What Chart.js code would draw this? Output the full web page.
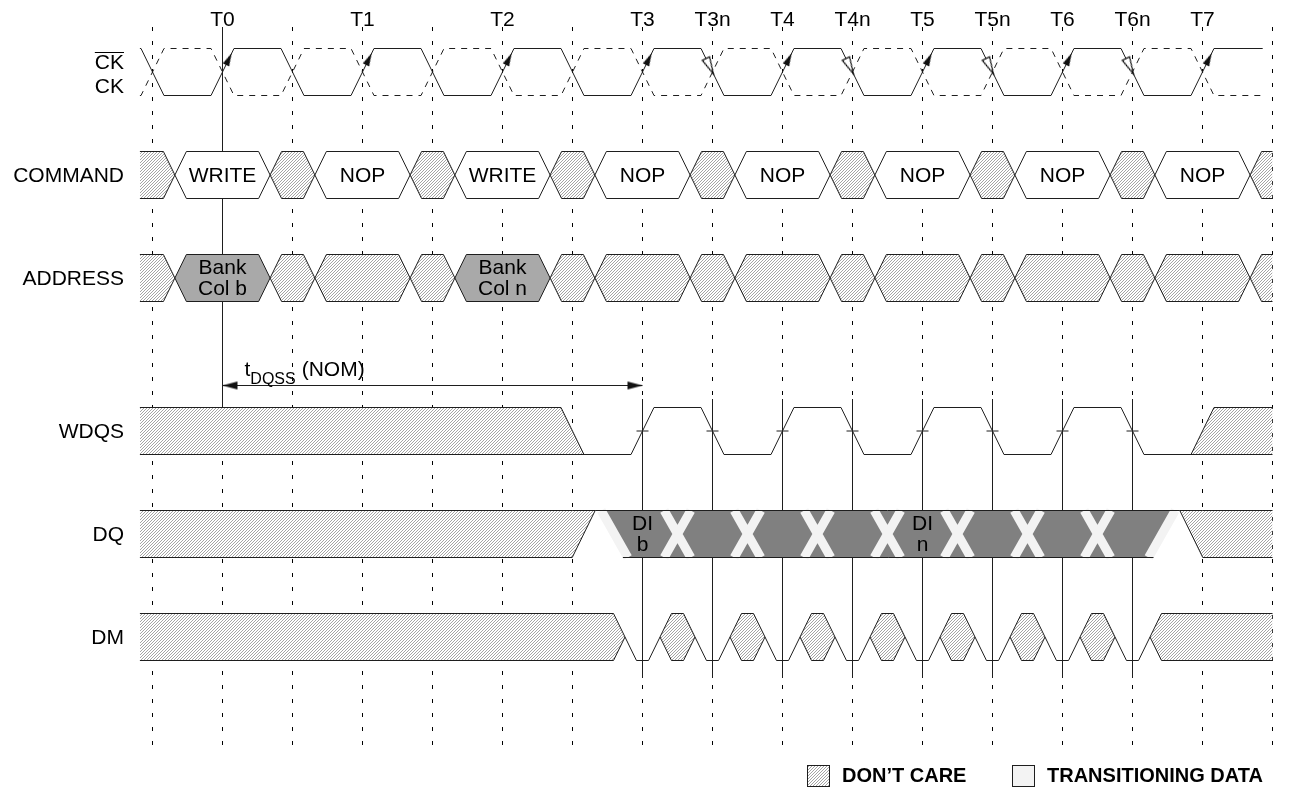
<!DOCTYPE html>
<html>
<head>
<meta charset="utf-8">
<title>WRITE burst timing</title>
<script src="https://cdn.jsdelivr.net/npm/chart.js@4.4.1/dist/chart.umd.min.js"></script>
<style>
  html, body { margin: 0; padding: 0; background: #fff; }
</style>
</head>
<body>
<canvas id="timing" width="1291" height="788"></canvas>
<script>
// times are in clock cycles, T0 = 0
var clockLabels = ['T0', 'T1', 'T2', 'T3', 'T3n', 'T4', 'T4n', 'T5', 'T5n', 'T6', 'T6n', 'T7'];
var clockLabelTimes = [0, 1, 2, 3, 3.5, 4, 4.5, 5, 5.5, 6, 6.5, 7];
var gridTimes = [-0.5, 0, 0.5, 1, 1.5, 2, 2.5, 3, 3.5, 4, 4.5, 5, 5.5, 6, 6.5, 7, 7.5];

var ckEdges = [-0.5, 0, 0.5, 1, 1.5, 2, 2.5, 3, 3.5, 4, 4.5, 5, 5.5, 6, 6.5, 7];
var ckRiseArrows = [0, 1, 2, 3, 4, 5, 6, 7];
var ckFallArrows = [3.5, 4.5, 5.5, 6.5];

var busEdges = [-0.34, 0.34, 0.66, 1.34, 1.66, 2.34, 2.66, 3.34, 3.66, 4.34, 4.66, 5.34, 5.66, 6.34, 6.66, 7.34];
var commandStates = ['X', 'WRITE', 'X', 'NOP', 'X', 'WRITE', 'X', 'NOP', 'X', 'NOP', 'X', 'NOP', 'X', 'NOP', 'X', 'NOP', 'X'];
var addressStates = ['X', 'Bank|Col b', 'X', 'X', 'X', 'Bank|Col n', 'X', 'X', 'X', 'X', 'X', 'X', 'X', 'X', 'X', 'X', 'X'];

var wdqsPreamble = 2.5;
var wdqsEdges = [3, 3.5, 4, 4.5, 5, 5.5, 6, 6.5];
var wdqsPostamble = 7;

var dqHatchEnd = 2.58;
var dqHatchStart = 6.92;
var dqEdges = [2.8, 3.25, 3.75, 4.25, 4.75, 5.25, 5.75, 6.25, 6.71];
var dqTimes = [3, 3.5, 4, 4.5, 5, 5.5, 6, 6.5];
var dqLabels = ['DI|b', '', '', '', 'DI|n', '', '', ''];

var dmValid = [3, 3.5, 4, 4.5, 5, 5.5, 6, 6.5];
var dmHalf = 0.125;

var tdqss = [0, 3];
var strobeLines = [3, 3.5, 4, 4.5, 5, 5.5, 6, 6.5];

// layout
var X_START = -0.59, X_END = 7.5, CK_END = 7.43;
var EDGE_H = 0.082;      // half a rise/fall
var ARM = 0.095;         // half slope of DQ transition bands
var LANE = {CK: 0, COMMAND: 103, ADDRESS: 206, WDQS: 359, DQ: 462, DM: 565};
var SWING = 47;
var LINE = '#1e1e1e';
var FONT = '21px "Liberation Sans", Arial, sans-serif';

var HATCH = (function () {
  var c = document.createElement('canvas');
  c.width = 3; c.height = 3;
  var g = c.getContext('2d');
  g.fillStyle = '#fff'; g.fillRect(0, 0, 3, 3);
  g.fillStyle = '#a4a4a4';
  for (var i = 0; i < 3; i++) g.fillRect(2 - i, i, 1, 1);
  return g.createPattern(c, 'repeat');
})();

function arrowImage(len, wid, hollow) {
  var c = document.createElement('canvas');
  c.width = 2 * len + 4; c.height = wid + 4;
  var g = c.getContext('2d');
  var cx = c.width / 2, cy = c.height / 2;
  g.beginPath();
  g.moveTo(cx, cy);
  g.lineTo(cx - len, cy - wid / 2);
  g.lineTo(cx - len, cy + wid / 2);
  g.closePath();
  if (hollow) {
    g.fillStyle = '#fff'; g.fill();
    g.strokeStyle = '#000'; g.lineWidth = 1.2; g.stroke();
  } else {
    g.fillStyle = '#111'; g.fill();
  }
  return c;
}

var sets = [];
function P(x, y) { return {x: x, y: y}; }
function add(o) {
  var w = o.width == null ? 1 : o.width;
  var d = {
    data: o.data,
    borderColor: w ? (o.color || LINE) : 'rgba(0,0,0,0)',
    borderWidth: w,
    backgroundColor: o.bg || 'rgba(0,0,0,0)',
    fill: o.fill || false,
    borderDash: o.dash || [],
    borderCapStyle: 'butt',
    pointRadius: 0,
    spanGaps: false
  };
  for (var k in o.extra || {}) d[k] = o.extra[k];
  sets.push(d);
  return d;
}
function shape(upper, lower, bg, edge) {
  var w = edge === false ? 0 : 1;
  add({data: upper, fill: '+1', bg: bg, width: w});
  add({data: lower, width: w});
}

// solid reference lines (drawn first, under everything)
(function () {
  var pts = [P(tdqss[0], -21.5), P(tdqss[0], LANE.WDQS), P(tdqss[0], null)];
  strobeLines.forEach(function (t) { pts.push(P(t, 350.5), P(t, 629.5), P(t, null)); });
  add({data: pts});
})();

// CK and CK#
(function () {
  var hi = LANE.CK, lo = LANE.CK + SWING;
  var a = [P(X_START, hi)], b = [P(X_START, lo)], level = 1;
  ckEdges.forEach(function (t) {
    a.push(P(t - EDGE_H, level ? hi : lo), P(t + EDGE_H, level ? lo : hi));
    b.push(P(t - EDGE_H, level ? lo : hi), P(t + EDGE_H, level ? hi : lo));
    level = 1 - level;
  });
  a.push(P(CK_END, level ? hi : lo));
  b.push(P(CK_END, level ? lo : hi));
  add({data: b, dash: [6, 6]});
  add({data: a});
})();

// bus rows
function busRow(lane, states, valueFill) {
  var hi = LANE[lane], lo = hi + SWING, mid = hi + SWING / 2;
  var bd = [X_START].concat(busEdges, [X_END]);
  states.forEach(function (s, i) {
    var a = bd[i], b = bd[i + 1], up = [], dn = [];
    if (i === 0) { up.push(P(a, hi)); dn.push(P(a, lo)); }
    else { up.push(P(a, mid), P(a + EDGE_H, hi)); dn.push(P(a, mid), P(a + EDGE_H, lo)); }
    if (i === states.length - 1) { up.push(P(b, hi)); dn.push(P(b, lo)); }
    else { up.push(P(b - EDGE_H, hi), P(b, mid)); dn.push(P(b - EDGE_H, lo), P(b, mid)); }
    shape(up, dn, s === 'X' ? HATCH : valueFill);
  });
}
busRow('COMMAND', commandStates, '#ffffff');
busRow('ADDRESS', addressStates, '#a9a9a9');

// tDQSS dimension
add({data: [P(tdqss[0], 337), P(tdqss[1], 337)]});

// WDQS
(function () {
  var hi = LANE.WDQS, lo = hi + SWING, mid = hi + SWING / 2;
  shape([P(X_START, hi), P(wdqsPreamble - EDGE_H, hi), P(wdqsPreamble + EDGE_H, lo)],
        [P(X_START, lo), P(wdqsPreamble - EDGE_H, lo), P(wdqsPreamble + EDGE_H, lo)], HATCH);
  var w = [P(wdqsPreamble + EDGE_H, lo)], level = 0;
  wdqsEdges.forEach(function (t) {
    w.push(P(t - EDGE_H, level ? hi : lo), P(t + EDGE_H, level ? lo : hi));
    level = 1 - level;
  });
  w.push(P(wdqsPostamble - EDGE_H, lo));
  add({data: w});
  shape([P(wdqsPostamble - EDGE_H, lo), P(wdqsPostamble + EDGE_H, hi), P(X_END, hi)],
        [P(wdqsPostamble - EDGE_H, lo), P(wdqsPostamble + EDGE_H, lo), P(X_END, lo)], HATCH);
  add({data: wdqsEdges.map(function (t) { return P(t, mid); }), width: 1,
       extra: {showLine: false, pointStyle: 'line', pointRadius: 6, pointBorderWidth: 1, pointBorderColor: LINE}});
})();

// DQ
(function () {
  var hi = LANE.DQ, lo = hi + SWING;
  var a = dqEdges[0], b = dqEdges[dqEdges.length - 1];
  shape([P(X_START, hi), P(dqHatchEnd - EDGE_H, hi), P(dqHatchEnd + EDGE_H, hi)],
        [P(X_START, lo), P(dqHatchEnd - EDGE_H, lo), P(dqHatchEnd + EDGE_H, hi)], HATCH);
  shape([P(a - ARM, hi), P(a + ARM, hi), P(b - ARM, hi), P(b + ARM, hi)],
        [P(a - ARM, hi), P(a + ARM, lo), P(b - ARM, lo), P(b + ARM, hi)], '#808080', false);
  var bands = [P(a - ARM, hi), P(a + ARM, lo), P(a + ARM, null)];
  dqEdges.slice(1, -1).forEach(function (c) {
    bands.push(P(c - ARM, hi), P(c + ARM, lo), P(c + ARM, null));
    bands.push(P(c - ARM, lo), P(c + ARM, hi), P(c + ARM, null));
  });
  bands.push(P(b - ARM, lo), P(b + ARM, hi));
  add({data: bands, width: 9, color: '#f3f3f3'});
  add({data: [P(dqHatchEnd + EDGE_H, hi), P(dqHatchStart - EDGE_H, hi)]});
  add({data: [P(a + ARM - 0.035, lo), P(b - ARM + 0.035, lo)]});
  shape([P(dqHatchStart - EDGE_H, hi), P(dqHatchStart + EDGE_H, hi), P(X_END, hi)],
        [P(dqHatchStart - EDGE_H, hi), P(dqHatchStart + EDGE_H, lo), P(X_END, lo)], HATCH);
})();

// DM
(function () {
  var hi = LANE.DM, lo = hi + SWING, mid = hi + SWING / 2;
  var first = dmValid[0] - dmHalf, last = dmValid[dmValid.length - 1] + dmHalf;
  shape([P(X_START, hi), P(first - EDGE_H, hi), P(first, mid)],
        [P(X_START, lo), P(first - EDGE_H, lo), P(first, mid)], HATCH);
  for (var i = 0; i < dmValid.length - 1; i++) {
    var a = dmValid[i] + dmHalf, b = dmValid[i + 1] - dmHalf;
    shape([P(a, mid), P(a + EDGE_H, hi), P(b - EDGE_H, hi), P(b, mid)],
          [P(a, mid), P(a + EDGE_H, lo), P(b - EDGE_H, lo), P(b, mid)], HATCH);
  }
  shape([P(last, mid), P(last + EDGE_H, hi), P(X_END, hi)],
        [P(last, mid), P(last + EDGE_H, lo), P(X_END, lo)], HATCH);
  var v = [];
  dmValid.forEach(function (c) {
    v.push(P(c - dmHalf, mid), P(c - dmHalf + EDGE_H, lo), P(c + dmHalf - EDGE_H, lo), P(c + dmHalf, mid), P(c + dmHalf, null));
  });
  add({data: v});
})();

// arrowheads
(function () {
  var slope = Math.atan2(SWING, 2 * EDGE_H * 140) * 180 / Math.PI;
  add({data: ckRiseArrows.map(function (t) { return P(t + 0.8 * EDGE_H, LANE.CK + 0.1 * SWING); }),
       extra: {showLine: false, pointRadius: 5, pointStyle: arrowImage(13, 7, false), pointRotation: -slope}});
  add({data: ckFallArrows.map(function (t) { return P(t + 0.08 * EDGE_H, LANE.CK + 0.54 * SWING); }),
       extra: {showLine: false, pointRadius: 5, pointStyle: arrowImage(17, 8, true), pointRotation: slope}});
  add({data: [P(tdqss[0], 337), P(tdqss[1], 337)],
       extra: {showLine: false, pointRadius: 5, pointStyle: arrowImage(15, 8, false), pointRotation: [180, 0]}});
})();

sets.forEach(function (d, i) { d.order = sets.length - i; });

var textPlugin = {
  id: 'timingText',
  afterDatasetsDraw: function (chart) {
    var ctx = chart.ctx, xs = chart.scales.x, ys = chart.scales.y;
    function X(t) { return xs.getPixelForValue(t); }
    function Y(v) { return ys.getPixelForValue(v); }
    function lines(txt, x, y, gap) {
      var parts = txt.split('|');
      parts.forEach(function (p, i) { ctx.fillText(p, x, y + (i - (parts.length - 1) / 2) * gap); });
    }
    ctx.save();
    ctx.fillStyle = '#000';
    ctx.font = FONT;
    ctx.textAlign = 'center';
    ctx.textBaseline = 'middle';
    clockLabels.forEach(function (s, i) { ctx.fillText(s, X(clockLabelTimes[i]), Y(LANE.CK - 28.5)); });

    var bd = [X_START].concat(busEdges, [X_END]);
    commandStates.forEach(function (s, i) {
      if (s !== 'X') ctx.fillText(s, X((bd[i] + bd[i + 1]) / 2), Y(LANE.COMMAND + SWING / 2 + 1));
    });
    addressStates.forEach(function (s, i) {
      if (s !== 'X') lines(s, X((bd[i] + bd[i + 1]) / 2), Y(LANE.ADDRESS + SWING / 2 + 1), 21);
    });
    dqLabels.forEach(function (s, i) {
      if (s) lines(s, X(dqTimes[i]), Y(LANE.DQ + SWING / 2 + 1), 21);
    });

    ctx.textAlign = 'right';
    var nx = 124;
    ctx.fillText('CK', nx, Y(LANE.CK + 14.5));
    var w = ctx.measureText('CK').width;
    ctx.fillRect(nx - w, Y(LANE.CK + 3.5), w, 1);
    ctx.fillText('CK', nx, Y(LANE.CK + 38.5));
    ['COMMAND', 'ADDRESS', 'WDQS', 'DQ', 'DM'].forEach(function (r) {
      ctx.fillText(r, nx, Y(LANE[r] + SWING / 2 + 1));
    });

    // t_DQSS (NOM)
    ctx.textAlign = 'left';
    ctx.textBaseline = 'alphabetic';
    var tx = X(tdqss[0]) + 22, ty = Y(327);
    ctx.fillText('t', tx, ty);
    tx += ctx.measureText('t').width;
    ctx.font = '16px "Liberation Sans", Arial, sans-serif';
    ctx.fillText('DQSS', tx, ty + 8);
    tx += ctx.measureText('DQSS').width + 6;
    ctx.font = FONT;
    ctx.fillText('(NOM)', tx, ty);

    // key
    ctx.textBaseline = 'middle';
    ctx.font = 'bold 20px "Liberation Sans", Arial, sans-serif';
    var ky = 776;
    ctx.fillStyle = HATCH;
    ctx.fillRect(807, 765, 23, 22);
    ctx.strokeStyle = LINE; ctx.lineWidth = 1;
    ctx.strokeRect(807.5, 765.5, 22, 21);
    ctx.fillStyle = '#f3f3f3';
    ctx.fillRect(1012, 765, 23, 22);
    ctx.strokeRect(1012.5, 765.5, 22, 21);
    ctx.fillStyle = '#000';
    ctx.fillText('DON\u2019T CARE', 842, ky);
    ctx.fillText('TRANSITIONING DATA', 1047, ky);
    ctx.restore();
  }
};

new Chart(document.getElementById('timing'), {
  type: 'line',
  data: {datasets: sets},
  options: {
    responsive: false,
    animation: false,
    devicePixelRatio: 1,
    events: [],
    layout: {autoPadding: false, padding: {top: 27, bottom: 38, left: 0, right: 0}},
    elements: {line: {tension: 0}, point: {radius: 0, hitRadius: 0}},
    plugins: {legend: {display: false}, tooltip: {enabled: false}},
    scales: {
      x: {
        type: 'linear',
        min: -222.5 / 140,
        max: (1291 - 222.5) / 140,
        afterBuildTicks: function (scale) { scale.ticks = gridTimes.map(function (v) { return {value: v}; }); },
        ticks: {display: false},
        grid: {color: '#000', lineWidth: 1, drawTicks: false},
        border: {display: false, dash: [4, 10]}
      },
      y: {
        type: 'linear',
        display: false,
        reverse: true,
        min: -21.5,
        max: 701.5
      }
    }
  },
  plugins: [textPlugin]
});
</script>
</body>
</html>
